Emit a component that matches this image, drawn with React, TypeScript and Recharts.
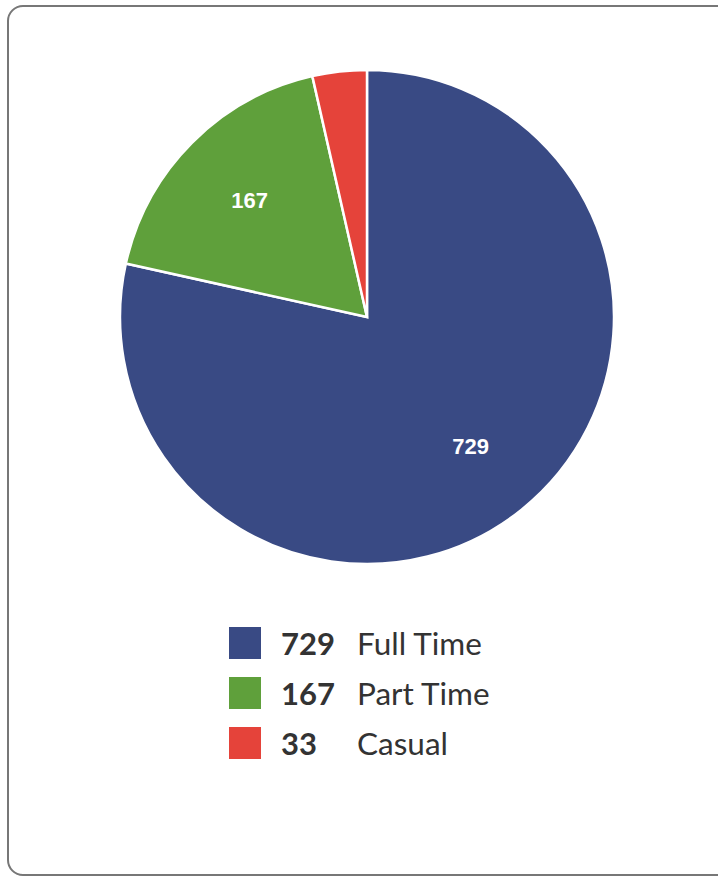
import React from 'react';
import { PieChart, Pie, Cell, Legend } from 'recharts';

const categories = ['Full Time', 'Part Time', 'Casual'];
const values = [729, 167, 33];
const colors = ['#394A84', '#5FA03B', '#E5433A'];

const data = categories.map((name, i) => ({ name, value: values[i], color: colors[i] }));

const RADIAN = Math.PI / 180;

const renderLabel = (props: any) => {
  const { cx, cy, midAngle, outerRadius, value } = props;
  if (value < 100) return null;
  const r = outerRadius * 0.67;
  const x = cx + r * Math.cos(-midAngle * RADIAN);
  const y = cy + r * Math.sin(-midAngle * RADIAN);
  return (
    <text
      x={x}
      y={y}
      fill="#ffffff"
      textAnchor="middle"
      dominantBaseline="central"
      fontFamily="'Liberation Sans', Arial, sans-serif"
      fontWeight="bold"
      fontSize={22}
    >
      {value}
    </text>
  );
};

const renderLegend = () => (
  <div style={{ fontFamily: 'Lato, sans-serif' }}>
    {data.map((d) => (
      <div key={d.name} style={{ display: 'flex', alignItems: 'center', height: 50 }}>
        <div style={{ width: 32, height: 32, background: d.color }} />
        <div style={{ width: 76, marginLeft: 20, fontWeight: 700, fontSize: 31, color: '#333333' }}>{d.value}</div>
        <div style={{ fontSize: 31.5, color: '#333333' }}>{d.name}</div>
      </div>
    ))}
  </div>
);

export default function App() {
  return (
    <div style={{ position: 'absolute', left: 0, top: 0, width: 718, height: 876, overflow: 'hidden', background: '#fff' }}>
      <div
        style={{
          position: 'absolute',
          left: 7,
          top: 5,
          width: 730,
          height: 871,
          border: '2px solid #777777',
          borderRadius: 16,
          boxSizing: 'border-box',
        }}
      />
      <div style={{ position: 'absolute', left: 0, top: 0 }}>
        <PieChart width={718} height={876} margin={{ top: 0, right: 0, bottom: 0, left: 0 }}>
          <Pie
            data={data}
            dataKey="value"
            nameKey="name"
            cx={367}
            cy={317}
            outerRadius={247}
            startAngle={90}
            endAngle={-270}
            stroke="#ffffff"
            strokeWidth={2.5}
            label={renderLabel}
            labelLine={false}
            isAnimationActive={false}
          >
            {data.map((d) => (
              <Cell key={d.name} fill={d.color} />
            ))}
          </Pie>
          <Legend
            content={renderLegend}
            wrapperStyle={{ position: 'absolute', left: 229, top: 618, width: 400, bottom: 'auto' }}
          />
        </PieChart>
      </div>
    </div>
  );
}
